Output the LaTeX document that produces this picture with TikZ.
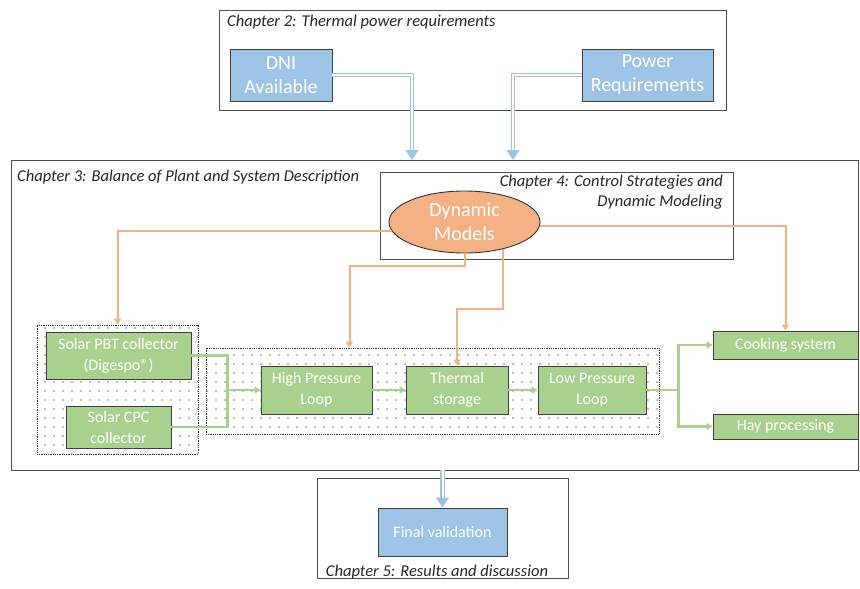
\documentclass[tikz,border=0pt]{standalone}
\usepackage{fontspec}
\setmainfont{Carlito}
\usepackage{xcolor}
\usepackage{tikz}
\usetikzlibrary{shapes.geometric,arrows.meta,patterns,positioning}
\definecolor{bluefill}{RGB}{157,195,230}
\definecolor{greenfill}{RGB}{169,209,142}
\definecolor{orangefill}{RGB}{244,177,131}
\definecolor{dotcol}{RGB}{120,135,100}
\pgfdeclarepatternformonly{sparsedots}{\pgfqpoint{-1pt}{-1pt}}{\pgfqpoint{1pt}{1pt}}{\pgfqpoint{9pt}{9pt}}{\pgfpathcircle{\pgfqpoint{0pt}{0pt}}{0.9pt}\pgfusepath{fill}}
\tikzset{
  chapbox/.style={draw=black!70, line width=0.8pt, inner sep=0pt},
  chaptitle/.style={font=\fontsize{16.5}{20}\selectfont\itshape, text=black!85, inner sep=0pt},
  bluebox/.style={draw=black!75, fill=bluefill, text=white, line width=0.9pt, inner sep=0pt,
    align=center, font=\fontsize{20}{24}\selectfont},
  greenbox/.style={draw=black!75, fill=greenfill, text=white, line width=0.9pt, inner sep=0pt,
    align=center, font=\fontsize{16}{21}\selectfont},
  dotbox/.style={draw=black!80, densely dotted, line width=0.8pt, pattern=sparsedots, pattern color=dotcol},
  orangearrow/.style={draw=orangefill, line width=2pt, -{Triangle[width=7pt,length=6pt]}},
  greenline/.style={draw=greenfill, line width=2.4pt},
  greenarrow/.style={greenline, -{Triangle[width=7pt,length=6pt]}},
  bluearrow/.style={draw=bluefill, line width=1.3pt, double=white, double distance=2pt,
    -{Triangle[width=13pt,length=10pt]}}
}
\begin{document}
\begin{tikzpicture}[x=1pt,y=-1pt]
  \useasboundingbox (0,0) rectangle (860,589);
% chapter frames
  \node[chapbox, minimum width=507pt, minimum height=100pt] (ch2) at (472.5,60) {};
  \node[chaptitle, anchor=west] at (227,22) {Chapter 2: Thermal power requirements};
  \node[chapbox, minimum width=847pt, minimum height=310pt] (ch3) at (434.5,315) {};
  \node[chaptitle, anchor=west] at (17,177) {Chapter 3: Balance of Plant and System Description};
  \node[chapbox, minimum width=353pt, minimum height=87pt] (ch4) at (556.5,215.5) {};
  \node[chaptitle, anchor=north east, align=right] at (723,175)
    {Chapter 4: Control Strategies and\\ Dynamic Modeling};
  \node[chapbox, minimum width=251pt, minimum height=100pt] (ch5) at (442.5,528) {};
  \node[chaptitle] at (437,572) {Chapter 5: Results and discussion};
% inputs
  \node[bluebox, minimum width=102pt, minimum height=52pt] (dni) at (281,75) {DNI\\Available};
  \node[bluebox, minimum width=131pt, minimum height=52pt] (power) at (647.5,75) {Power\\Requirements};
  \coordinate (drop1) at (412,160);
  \coordinate (drop2) at (513,160);
  \draw[bluearrow] (dni.east) -| (drop1);
  \draw[bluearrow] (power.west) -| (drop2);
% model
  \node[ellipse, draw=black!80, line width=0.9pt, fill=orangefill, text=white, inner sep=0pt,
    minimum width=151pt, minimum height=62pt, align=center,
    font=\fontsize{20}{24}\selectfont] (dyn) at (464.5,222) {Dynamic\\Models};
% plant
  \node[dotbox, minimum width=161pt, minimum height=129pt] (coldots) at (117.5,389.5) {};
  \node[dotbox, minimum width=453pt, minimum height=86pt] (loopdots) at (432.5,391) {};
  \node[greenbox, minimum width=145pt, minimum height=47pt] (pbt) at (118.5,355.5) {Solar PBT collector\\(Digespo®)};
  \node[greenbox, minimum width=105pt, minimum height=42pt] (cpc) at (118.5,427) {Solar CPC\\collector};
  \node[greenbox, minimum width=111pt, minimum height=48pt] (hpl) at (316.5,390) {High Pressure\\Loop};
  \node[greenbox, minimum width=102pt, minimum height=48pt] (ts) at (457,390) {Thermal\\storage};
  \node[greenbox, minimum width=108pt, minimum height=48pt] (lpl) at (592,390) {Low Pressure\\Loop};
  \node[greenbox, minimum width=145pt, minimum height=28pt] (cook) at (785.5,345) {Cooking system};
  \node[greenbox, minimum width=145pt, minimum height=25pt] (hay) at (785.5,426.5) {Hay processing};
% control links
  \draw[orangearrow] (dyn.187) -| (coldots.north);
  \draw[orangearrow] (dyn.south) |- ++(-115,13) coordinate (o2) -- (o2 |- loopdots.north);
  \draw[orangearrow] (dyn.-35) -- ++(0,60) -| (ts.north);
  \draw[orangearrow] (dyn.-3) -| (cook.north);
% flow
  \coordinate (jn) at ([xshift=36pt]pbt.east |- hpl.west);
  \draw[greenarrow] (pbt.east) -| (jn) -- (hpl.west);
  \draw[greenline] (cpc.east) -| (jn);
  \draw[greenarrow] (hpl) -- (ts);
  \draw[greenarrow] (ts) -- (lpl);
  \coordinate (sp) at ([xshift=32pt]lpl.east);
  \draw[greenline] (lpl.east) -- (sp);
  \draw[greenarrow] (sp) |- (cook.west);
  \draw[greenarrow] (sp) |- (hay.west);
% results
  \node[bluebox, minimum width=129pt, minimum height=48pt, font=\fontsize{16}{20}\selectfont] (final) at (442.5,532) {Final validation};
  \draw[bluearrow] (ch3.south -| final.north) -- (final.north);
\end{tikzpicture}
\end{document}
